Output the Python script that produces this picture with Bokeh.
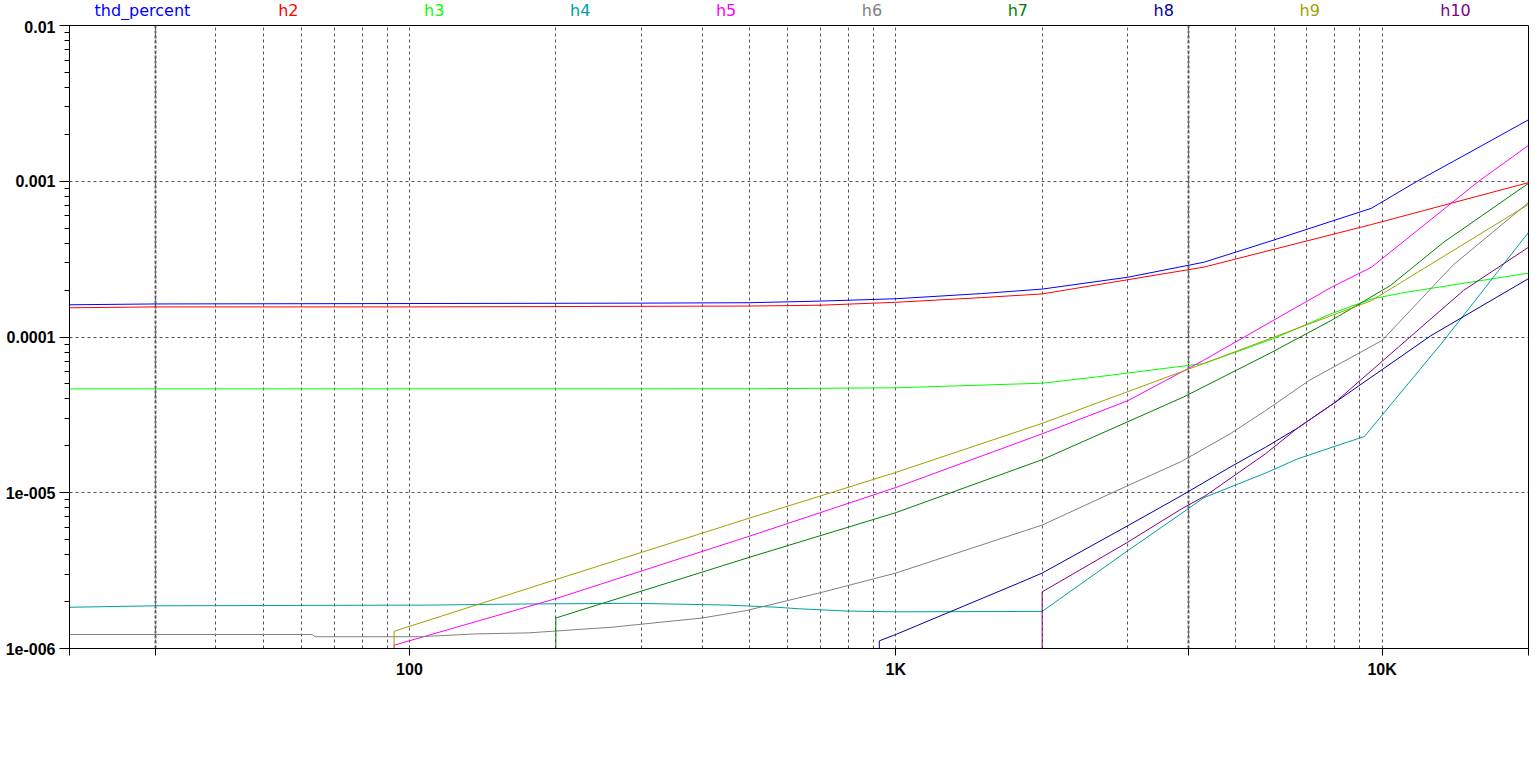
from bokeh.plotting import figure
from bokeh.layouts import column
from bokeh.models import FixedTicker, Grid
from bokeh.core.properties import value
from bokeh.embed import file_html
from bokeh.resources import INLINE

# ---- data (frequency in Hz, value) ----
series_names = ["thd_percent", "h2", "h3", "h4", "h5", "h6", "h7", "h8", "h9", "h10"]
series_colors = ["#0000ff", "#ff0000", "#00ff00", "#00a0a0", "#ff00ff",
                 "#808080", "#008000", "#0000a0", "#a0a000", "#800080"]

thd_f = [20, 30, 100, 300, 500, 700, 1000, 1500, 2000, 3000, 4300, 6000, 9500, 11800, 14000, 20000]
thd_v = [1.61e-4, 1.63e-4, 1.64e-4, 1.65e-4, 1.66e-4, 1.70e-4, 1.76e-4, 1.90e-4, 2.03e-4, 2.42e-4,
         3.02e-4, 4.2e-4, 6.7e-4, 1.0e-3, 1.34e-3, 2.48e-3]

h2_f = [20, 30, 100, 500, 700, 1000, 1500, 2000, 4300, 9500, 20000]
h2_v = [1.54e-4, 1.56e-4, 1.56e-4, 1.58e-4, 1.60e-4, 1.67e-4, 1.79e-4, 1.89e-4, 2.81e-4, 5.27e-4, 9.8e-4]

h3_f = [20, 500, 1000, 2000, 2600, 4300, 6000, 7900, 9500, 11000, 20000]
h3_v = [4.64e-5, 4.65e-5, 4.72e-5, 5.05e-5, 5.55e-5, 6.76e-5, 9.8e-5, 1.42e-4, 1.75e-4, 1.92e-4, 2.57e-4]

h4_f = [20, 30, 110, 170, 290, 450, 570, 630, 790, 1000, 2000, 3000, 3900, 4300, 5800, 6700, 9200, 13400, 20000]
h4_v = [1.84e-6, 1.88e-6, 1.90e-6, 1.93e-6, 1.95e-6, 1.90e-6, 1.84e-6, 1.80e-6, 1.74e-6, 1.72e-6,
        1.73e-6, 4.25e-6, 7.5e-6, 9.3e-6, 1.35e-5, 1.65e-5, 2.3e-5, 9.5e-5, 4.7e-4]

h5_f = [93, 93, 200, 500, 1000, 2000, 3000, 4300, 5900, 7900, 9500, 15800, 20000]
h5_v = [1e-9, 1.05e-6, 2.09e-6, 5.26e-6, 1.08e-5, 2.39e-5, 3.9e-5, 7.1e-5, 1.25e-4, 2.1e-4, 2.8e-4, 1.0e-3, 1.7e-3]

h6_f = [20, 63, 64, 105, 136, 176, 261, 400, 492, 707, 1000, 2000, 2960, 3870, 4870, 5760, 7080, 10000, 14000, 20000]
h6_v = [1.23e-6, 1.23e-6, 1.19e-6, 1.19e-6, 1.24e-6, 1.26e-6, 1.37e-6, 1.57e-6, 1.75e-6, 2.3e-6,
        3.05e-6, 6.2e-6, 1.09e-5, 1.59e-5, 2.39e-5, 3.37e-5, 5.26e-5, 9.5e-5, 2.9e-4, 7.3e-4]

h7_f = [200, 200, 500, 1000, 2000, 3900, 5850, 7870, 10400, 13400, 20000]
h7_v = [1e-9, 1.57e-6, 3.85e-6, 7.45e-6, 1.63e-5, 4.11e-5, 7.8e-5, 1.28e-4, 2.14e-4, 4.07e-4, 9.7e-4]

h8_f = [925, 925, 1000, 1790, 2000, 2960, 3870, 4870, 5760, 6700, 8000, 12600, 20000]
h8_v = [1e-9, 1.12e-6, 1.23e-6, 2.63e-6, 3.05e-6, 6.0e-6, 9.6e-6, 1.46e-5, 1.96e-5, 2.6e-5, 3.8e-5, 1.02e-4, 2.37e-4]

h9_f = [93, 93, 200, 500, 1000, 2000, 4300, 6000, 9500, 20000]
h9_v = [1e-9, 1.29e-6, 2.77e-6, 6.87e-6, 1.35e-5, 2.79e-5, 6.76e-5, 1.0e-4, 1.71e-4, 7.1e-4]

h10_f = [2000, 2000, 2960, 3870, 4340, 5760, 6700, 8000, 10800, 14700, 20000]
h10_v = [1e-9, 2.31e-6, 4.7e-6, 7.88e-6, 9.6e-6, 1.78e-5, 2.6e-5, 3.8e-5, 8.6e-5, 1.99e-4, 3.77e-4]

x_tick_values = [20, 30, 100, 1000, 4000, 10000, 20000]
x_tick_labels = ["", "", "100", "1K", "", "10K", ""]
y_tick_values = [1e-6, 1e-5, 1e-4, 1e-3, 1e-2]
y_tick_labels = ["1e-006", "1e-005", "0.0001", "0.001", "0.01"]

series = [(thd_f, thd_v), (h2_f, h2_v), (h3_f, h3_v), (h4_f, h4_v), (h5_f, h5_v),
          (h6_f, h6_v), (h7_f, h7_v), (h8_f, h8_v), (h9_f, h9_v), (h10_f, h10_v)]

# ---- layout constants ----
W = 1530
HEAD_H = 20
H = 740
BL, BR, BT, BB = 69, 2, 5, 112
X0, X1 = 20, 20000
Y0, Y1 = 1e-6, 1e-2

# ---- header strip with the series names ----
head = figure(width=W, height=HEAD_H, x_axis_type="log", x_range=(X0, X1), y_range=(0, HEAD_H),
              output_backend="svg", toolbar_location=None,
              x_axis_location=None, y_axis_location=None,
              min_border_left=BL, min_border_right=BR, min_border_top=0, min_border_bottom=0)
head.outline_line_color = None
head.background_fill_color = "white"
head.border_fill_color = "white"
head.xgrid.visible = False
head.ygrid.visible = False
n = len(series_names)
label_x = [X0 * (X1 / X0) ** ((i + 0.5) / n) for i in range(n)]
head.text(x=label_x, y=[1] * n, text=series_names, text_color=series_colors,
          text_font=value("DejaVu Sans"), text_font_size=value("16px"),
          text_align="center", text_baseline="bottom")

# ---- main plot ----
p = figure(width=W, height=H, x_axis_type="log", y_axis_type="log",
           x_range=(X0, X1), y_range=(Y0, Y1),
           output_backend="svg", toolbar_location=None,
           min_border_left=BL, min_border_right=BR, min_border_top=BT, min_border_bottom=BB)
p.background_fill_color = "white"
p.border_fill_color = "white"
p.outline_line_color = "black"
p.outline_line_width = 1
p.outline_line_alpha = 1.0

grid_color = "#5f5060"
grid_x = [m * 10 ** k for k in (1, 2, 3) for m in range(1, 10) if 20 < m * 10 ** k <= 10000] + [10000]
p.xgrid.ticker = FixedTicker(ticks=grid_x)
p.ygrid.ticker = FixedTicker(ticks=[1e-5, 1e-4, 1e-3])
for g in (p.xgrid, p.ygrid):
    g.grid_line_color = grid_color
    g.grid_line_dash = "3 3"
    g.grid_line_width = 1
    g.grid_line_alpha = 1.0
p.add_layout(Grid(dimension=0, ticker=FixedTicker(ticks=[30, 4000]),
                  grid_line_color=grid_color, grid_line_width=2, grid_line_dash="3 2",
                  grid_line_alpha=0.9))

tick_font = "Liberation Sans"
ax = p.xaxis[0]
ax.ticker = FixedTicker(ticks=x_tick_values, minor_ticks=[])
ax.major_label_overrides = {v: t for v, t in zip(x_tick_values, x_tick_labels)}
ax.major_tick_out = 7
ax.major_tick_in = 0
ax.minor_tick_out = 0
ax.minor_tick_in = 0
ax.major_label_standoff = 5

ay = p.yaxis[0]
minor_y = [m * 10.0 ** k for k in (-6, -5, -4, -3) for m in range(2, 10)]
ay.ticker = FixedTicker(ticks=y_tick_values, minor_ticks=minor_y)
ay.major_label_overrides = {v: t for v, t in zip(y_tick_values, y_tick_labels)}
ay.major_tick_out = 10
ay.major_tick_in = 0
ay.minor_tick_out = 5
ay.minor_tick_in = 0
ay.major_label_standoff = 4

for a in (ax, ay):
    a.axis_line_color = "black"
    a.major_tick_line_color = "black"
    a.minor_tick_line_color = "black"
    a.major_label_text_font = tick_font
    a.major_label_text_font_size = "16px"
    a.major_label_text_font_style = "bold"
    a.major_label_text_color = "black"

for (fx, vy), c in zip(series, series_colors):
    p.line(fx, vy, line_color=c, line_width=1)

layout = column(head, p, spacing=0)
open("out.html", "w").write(file_html(layout, INLINE))
